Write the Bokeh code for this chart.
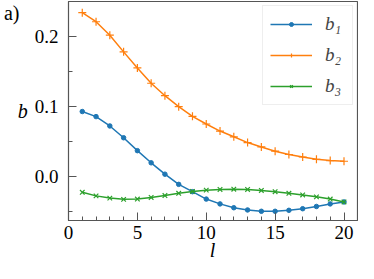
from bokeh.plotting import figure
from bokeh.models import (Range1d, FixedTicker, Legend, LegendItem, LinearAxis)
from bokeh.embed import file_html
from bokeh.resources import INLINE

l = list(range(1, 21))
b1 = [0.0928, 0.0855, 0.0721, 0.0552, 0.0367, 0.0193, 0.0030, -0.0116, -0.0221, -0.0327,
      -0.0396, -0.0451, -0.0483, -0.0502, -0.0502, -0.0488, -0.0465, -0.0433, -0.0396, -0.0368]
b2 = [0.2345, 0.2215, 0.2022, 0.1783, 0.1553, 0.1333, 0.1155, 0.0997, 0.0859, 0.0749,
      0.0648, 0.0566, 0.0483, 0.0420, 0.0359, 0.0312, 0.0276, 0.0243, 0.0225, 0.0215]
b3 = [-0.0230, -0.0281, -0.0313, -0.0331, -0.0327, -0.0303, -0.0276, -0.0244, -0.0217, -0.0199,
      -0.0189, -0.0185, -0.0189, -0.0203, -0.0221, -0.0244, -0.0268, -0.0295, -0.0327, -0.0368]
labels = ["b\u2081", "b\u2082", "b\u2083"]
x_ticks = [0, 5, 10, 15, 20]
y_ticks = [0.0, 0.1, 0.2]
y_tick_labels = ["0.0", "0.1", "0.2"]
x_title = "l"
x_title_pos = 10.45
panel_letter = "a)"
panel_letter_y = 0.2345

FONT = "Liberation Serif"
AX = "#555555"

p = figure(width=358, height=263, output_backend="svg", toolbar_location=None,
           x_range=Range1d(0, 20.98), y_range=Range1d(-0.0634, 0.2505),
           min_border_left=59, min_border_right=1, min_border_top=1, min_border_bottom=0)
p.grid.visible = False
p.outline_line_color = AX
p.outline_line_width = 1.2
p.background_fill_color = "white"
p.border_fill_color = "white"

c1, c2, c3 = "#1f77b4", "#ff7f0e", "#2ca02c"
r1l = p.line(l, b1, color=c1, line_width=1.5)
r1m = p.scatter(l, b1, color=c1, size=4.5, marker="circle")
r2l = p.line(l, b2, color=c2, line_width=1.5)
r2m = p.scatter(l, b2, color=c2, size=8, marker="cross", line_width=1.2)
r3l = p.line(l, b3, color=c3, line_width=1.5)
r3m = p.scatter(l, b3, color=c3, size=6.5, marker="x", line_width=1.2)

for ax in (p.xaxis[0], p.yaxis[0]):
    ax.axis_line_color = AX
    ax.major_tick_line_color = AX
    ax.minor_tick_line_color = AX
    ax.major_tick_in = 8
    ax.major_tick_out = 0
    ax.minor_tick_in = 4
    ax.minor_tick_out = 0
    ax.major_label_text_font = FONT
    ax.major_label_text_font_size = "19px"
    ax.major_label_text_color = "black"
    ax.axis_label_text_font = FONT
    ax.axis_label_text_font_style = "italic"
    ax.axis_label_text_font_size = "20px"
    ax.axis_label_text_color = "black"

p.xaxis.ticker = FixedTicker(ticks=x_ticks, minor_ticks=l)
p.yaxis.ticker = FixedTicker(ticks=y_ticks, minor_ticks=[-0.05, 0.05, 0.15])
p.yaxis.major_label_overrides = {t: s for t, s in zip(y_ticks, y_tick_labels)}
p.xaxis.major_label_standoff = 5
p.xaxis.axis_label_standoff = -2
p.yaxis.major_label_standoff = 10
p.yaxis.axis_label = "b"
p.yaxis.axis_label_orientation = "horizontal"
p.yaxis.axis_label_standoff = 4


def text_only_axis(pos, text, standoff, italic):
    ax = LinearAxis(ticker=FixedTicker(ticks=[pos], minor_ticks=[]),
                    major_label_overrides={pos: text})
    ax.axis_line_alpha = 0
    ax.major_tick_line_alpha = 0
    ax.minor_tick_line_alpha = 0
    ax.major_tick_in = 0
    ax.major_tick_out = 0
    ax.minor_tick_in = 0
    ax.minor_tick_out = 0
    ax.axis_label_standoff = 0
    ax.major_label_standoff = standoff
    ax.major_label_text_font = FONT
    ax.major_label_text_font_size = "20px"
    ax.major_label_text_color = "black"
    if italic:
        ax.major_label_text_font_style = "italic"
    return ax


# x-axis title "l" as the only label of an extra, invisible bottom axis
p.add_layout(text_only_axis(x_title_pos, x_title, -3, True), "below")
# panel letter "a)" as the only label of an extra, invisible left axis
p.add_layout(text_only_axis(panel_letter_y, panel_letter, -5, False), "left")

legend = Legend(items=[
    LegendItem(label=labels[0], renderers=[r1l, r1m]),
    LegendItem(label=labels[1], renderers=[r2l, r2m]),
    LegendItem(label=labels[2], renderers=[r3l, r3m]),
], location="top_right")
legend.label_text_font = FONT
legend.label_text_font_style = "italic"
legend.label_text_font_size = "19px"
legend.glyph_width = 42
legend.glyph_height = 10
legend.label_height = 20
legend.label_standoff = 13
legend.spacing = 9
legend.padding = 7
legend.margin = 4
legend.border_line_color = "#dddddd"
legend.border_line_width = 1
legend.background_fill_alpha = 0.9
p.add_layout(legend)

open("out.html", "w").write(file_html(p, INLINE))
